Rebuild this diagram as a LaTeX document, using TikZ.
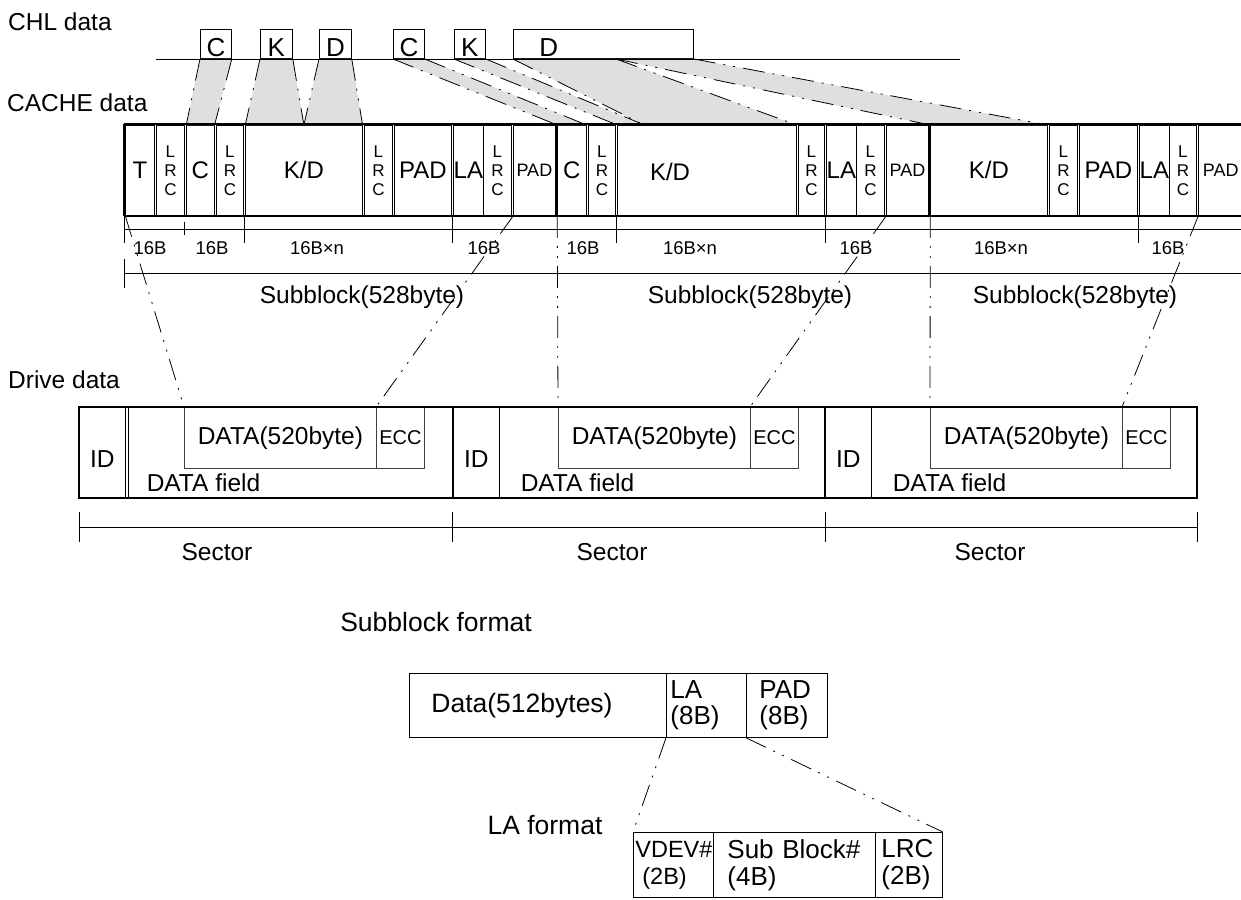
\documentclass[tikz,border=0pt]{standalone}
\usepackage{fontspec}
\setmainfont{Liberation Sans}
\usetikzlibrary{calc}

\tikzset{
  lbl/.style={font=\fontsize{24.5}{28}\selectfont, inner sep=0pt},
  fmtlbl/.style={font=\fontsize{26.5}{28}\selectfont, inner sep=0pt},
  rulelbl/.style={font=\fontsize{18.5}{20}\selectfont, inner sep=0pt},
  celltxt/.style={font=\fontsize{24}{26}\selectfont, inner sep=0pt},
  cell/.style={draw, line width=0.8pt, inner sep=0pt, minimum height=90pt, anchor=north west},
  bigcell/.style={cell, font=\fontsize{24}{26}\selectfont},
  lrccell/.style={cell, font=\fontsize{17}{19}\selectfont, align=center},
  padcell/.style={cell, font=\fontsize{18}{20}\selectfont},
  chlbox/.style={draw, line width=0.8pt, inner sep=0pt, minimum height=29pt, text height=25pt, text depth=0pt, anchor=south west, font=\fontsize{26}{28}\selectfont},
  idcell/.style={draw, line width=0.8pt, inner sep=0pt, minimum width=46pt, minimum height=91pt, text height=30pt, text depth=0pt, anchor=north west, font=\fontsize{24.5}{28}\selectfont},
  drvbox/.style={draw=black!75, line width=0.8pt, inner sep=0pt, minimum height=61pt, anchor=north west},
  fmtbox/.style={draw, line width=0.8pt, anchor=north west, align=left, inner ysep=0pt, font=\fontsize{26}{26}\selectfont},
  mapline/.style={line width=0.8pt, dash pattern=on 22pt off 8pt on 2pt off 8pt on 2pt off 8pt},
  band/.style={fill=gray!25},
  rule/.style={line width=0.8pt},
  thickline/.style={line width=2pt},
}

\begin{document}
\begin{tikzpicture}[x=1pt, y=-1pt]
\useasboundingbox (0,0) rectangle (1241,899);

% row labels
\node[lbl, anchor=west] (chllbl) at (8,22) {CHL data};
\node[lbl, anchor=west] (cachelbl) at (7,103) {CACHE data};
\node[lbl, anchor=west] (drivelbl) at (8,380) {Drive data};

% CHL data boxes
\node[chlbox, minimum width=31pt] (chlC) at (200,59) {C};
\node[chlbox, minimum width=32pt] (chlK) at (260,59) {K};
\node[chlbox, minimum width=32pt] (chlD) at (319,59) {D};
\node[chlbox, minimum width=31pt] (chlCC) at (393,59) {C};
\node[chlbox, minimum width=31pt] (chlKK) at (454,59) {K};
\node[chlbox, minimum width=180pt, text width=128pt, inner xsep=26pt, align=left] (chlDD) at (513,59) {D};
\coordinate (dsplit) at (616,59);
\coordinate (kdsplit) at (642,124);

% CACHE data cells
\foreach \a/\b/\t/\n in {124/155/T/t1, 185/215/C/c1, 244/363/K\slash D/kd1, 393/452/PAD/pd1, 452/482/LA/la1,
    556/587/C/c2, 616/797//kd2, 825/855/LA/la2, 929/1048/K\slash D/kd3, 1078/1138/PAD/pd3, 1138/1168/LA/la3}{
  \pgfmathsetmacro\w{\b-\a-2.5}
  \node[bigcell, minimum width=\w pt] (\n) at (\a+1.25,125) {\t};
}
\node[celltxt] (kd2t) at (670,172) {K/D};
\foreach \a/\b/\n in {155/185/lr1, 215/244/lr2, 363/393/lr3, 482/512/lr4, 587/616/lr5,
    797/825/lr6, 855/885/lr7, 1048/1078/lr8, 1168/1197/lr9}{
  \pgfmathsetmacro\w{\b-\a-2.5}
  \node[lrccell, minimum width=\w pt] (\n) at (\a+1.25,125) {L\\R\\C};
}
\foreach \a/\b/\n in {512/556/ps1, 885/929/ps2, 1197/1243.5/ps3}{
  \pgfmathsetmacro\w{\b-\a-2.5}
  \node[padcell, minimum width=\w pt] (\n) at (\a+1.25,125) {PAD};
}

% CHL -> CACHE
\fill[band] (chlC.south west) -- (chlC.south east) -- (c1.north east) -- (c1.north west) -- cycle;
\fill[band] (chlK.south west) -- (chlK.south east) -- (kd1.north) -- (kd1.north west) -- cycle;
\fill[band] (chlD.south west) -- (chlD.south east) -- (kd1.north east) -- (kd1.north) -- cycle;
\fill[band] (chlCC.south west) -- (chlCC.south east) -- (c2.north east) -- (c2.north west) -- cycle;
\fill[band] (chlKK.south west) -- (chlKK.south east) -- (kdsplit) -- (kd2.north west) -- cycle;
\fill[band] (chlDD.south west) -- (dsplit) -- (kd2.north east) -- (kdsplit) -- cycle;
\fill[band] (dsplit) -- (chlDD.south east) -- (kd3.north east) -- (kd3.north west) -- cycle;
\draw[mapline] (chlC.south west) -- (c1.north west) (chlC.south east) -- (c1.north east);
\draw[mapline] (chlK.south west) -- (kd1.north west) (chlK.south east) -- (kd1.north);
\draw[mapline] (chlD.south west) -- (kd1.north) (chlD.south east) -- (kd1.north east);
\draw[mapline] (chlCC.south west) -- (c2.north west) (chlCC.south east) -- (c2.north east);
\draw[mapline] (chlKK.south west) -- (kd2.north west) (chlKK.south east) -- (kdsplit);
\draw[mapline] (chlDD.south west) -- (kdsplit) (dsplit) -- (kd2.north east);
\draw[mapline] (dsplit) -- (kd3.north west) (chlDD.south east) -- (kd3.north east);
\draw[rule] (156,59) -- (960,59);

\draw[thickline] (124,124) -- (1245,124) (124,216) -- (1245,216) (124,124) -- (124,216);
\draw[thickline] (556,124) -- (556,216) (929,124) -- (929,216);

% 16B ruler
\draw[rule] (124,229) -- (1241,229);
\foreach \x in {124,244,452,616,825,1138} \draw[rule] (\x,216) -- (\x,243);
\draw[rule] (184,222) -- (184,235);
\foreach \x/\t/\n in {150/16B/r1, 212/16B/r2, 317/16B×n/r3, 484/16B/r4, 583/16B/r5,
    690/16B×n/r6, 856/16B/r7, 1001/16B×n/r8, 1168/16B/r9}
  \node[rulelbl] (\n) at (\x,248) {\t};

% subblock ruler
\draw[rule] (124,273) -- (1241,273);
\draw[rule] (124,259) -- (124,288);
\foreach \x/\n in {362/sb1, 750/sb2, 1075/sb3} \node[lbl] (\n) at (\x,297) {Subblock(528byte)};

% Drive data
\foreach \s/\x in {1/79, 2/453, 3/825}{
  \node[idcell] (id\s) at (\x,407) {ID};
  \node[drvbox, minimum width=192pt, font=\fontsize{24.5}{28}\selectfont] (dat\s) at (\x+105,407) {DATA(520byte)};
  \node[drvbox, minimum width=48pt, font=\fontsize{20}{22}\selectfont] (ecc\s) at (\x+297,407) {ECC};
  \node[lbl] (fld\s) at (\x+124.5,483) {DATA field};
}
\draw[thickline] (79,407) rectangle (1197,498);
\draw[thickline] (453,407) -- (453,498) (825,407) -- (825,498);
\draw[rule] (128,407) -- (128,498);

% CACHE -> Drive
\draw[mapline] (t1.south west) -- (dat1.north west);
\draw[mapline] (ps1.south west) -- (ecc1.north west);
\draw[mapline] (c2.south west) -- (dat2.north west);
\draw[mapline] (ps2.south west) -- (ecc2.north west);
\draw[mapline] (kd3.south west) -- (dat3.north west);
\draw[mapline] (ps3.south west) -- (ecc3.north west);

% sector ruler
\draw[rule] (79,527) -- (1197,527);
\foreach \x in {79,452,825,1197} \draw[rule] (\x,512) -- (\x,542);
\foreach \x/\n in {217/se1, 612/se2, 990/se3} \node[lbl] (\n) at (\x,552) {Sector};

% Subblock format
\node[fmtlbl] (sbfmt) at (436,622) {Subblock format};
\node[fmtbox, minimum width=257pt, minimum height=64pt, text width=213pt, inner xsep=22pt, font=\fontsize{26.5}{28}\selectfont] (datab) at (409,673) {Data(512bytes)};
\node[fmtbox, minimum width=80pt, minimum height=64pt, text width=72pt, inner xsep=4pt] (lab) at (666,673) {LA\\(8B)};
\node[fmtbox, minimum width=81pt, minimum height=64pt, text width=55pt, inner xsep=13pt] (padb) at (746,673) {PAD\\(8B)};

% LA format
\node[fmtlbl] (lafmt) at (545,825) {LA format};
\node[fmtbox, minimum width=80pt, minimum height=65pt, text width=76pt, inner xsep=2pt, font=\fontsize{23.5}{27}\selectfont] (vdev) at (633,832) {VDEV\#\\\hspace*{7pt}(2B)};
\node[fmtbox, minimum width=162pt, minimum height=65pt, text width=134pt, inner xsep=14pt, font=\fontsize{26}{27}\selectfont] (subb) at (713,832) {Sub Block\#\\(4B)};
\node[fmtbox, minimum width=67pt, minimum height=65pt, text width=55pt, inner xsep=6pt, font=\fontsize{26}{27}\selectfont] (lrcb) at (875,832) {LRC\\(2B)};
\draw[mapline] (lab.south west) -- (vdev.north west);
\draw[mapline] (padb.south west) -- (lrcb.north east);
\end{tikzpicture}
\end{document}
